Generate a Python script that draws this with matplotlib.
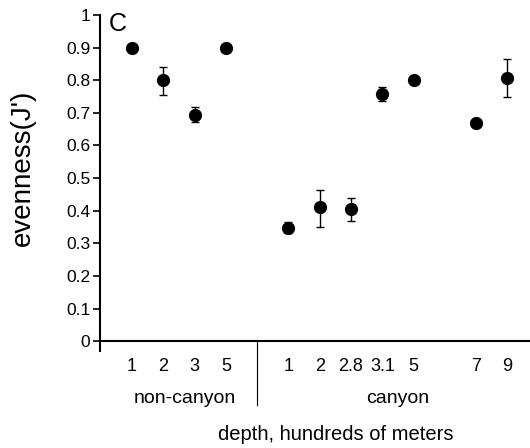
import matplotlib
matplotlib.use("Agg")
import matplotlib.pyplot as plt

plt.rcParams['font.family'] = ['Liberation Sans', 'DejaVu Sans']

# Data
tick_labels = ["1", "2", "3", "5", "1", "2", "2.8", "3.1", "5", "7", "9"]
positions = [1, 2, 3, 4, 6, 7, 8, 9, 10, 12, 13]
evenness = [0.90, 0.80, 0.695, 0.90, 0.347, 0.41, 0.405, 0.757, 0.80, 0.668, 0.806]
err_low = [0.0, 0.045, 0.022, 0.0, 0.015, 0.06, 0.035, 0.02, 0.01, 0.008, 0.058]
err_high = [0.0, 0.04, 0.022, 0.0, 0.017, 0.055, 0.035, 0.022, 0.01, 0.008, 0.06]
group_names = ["non-canyon", "canyon"]
yticks = [0, 0.1, 0.2, 0.3, 0.4, 0.5, 0.6, 0.7, 0.8, 0.9, 1]
ytick_labels = ["0", "0.1", "0.2", "0.3", "0.4", "0.5", "0.6", "0.7", "0.8", "0.9", "1"]

fig = plt.figure(figsize=(5.3, 4.48), dpi=100)
ax = fig.add_axes([0.1887, 0.2165, 0.8113, 0.75])

ax.errorbar(positions, evenness, yerr=[err_low, err_high], fmt='o', color='black',
            markersize=8.5, elinewidth=1.0, capsize=3, capthick=1.0)

ax.set_xlim(-0.02, 13.72)
ax.set_ylim(-0.03, 1.0)
ax.spines['top'].set_visible(False)
ax.spines['right'].set_visible(False)
ax.spines['bottom'].set_position(('data', 0))
ax.spines['left'].set_linewidth(1.5)
ax.spines['bottom'].set_linewidth(1.5)

ax.set_yticks(yticks)
ax.set_yticklabels(ytick_labels, fontsize=12.5)
ax.tick_params(axis='y', direction='out', length=5, width=1.2, pad=2)
ax.set_xticks(positions)
ax.set_xticklabels(tick_labels, fontsize=13)
ax.tick_params(axis='x', length=0, pad=12)

ax.set_ylabel("evenness(J')", fontsize=20)
ax.yaxis.set_label_coords(-0.15, 0.545)

ax.text(0.25, 0.972, "C", fontsize=18, ha='left', va='center')

# divider between groups
ax.plot([5, 5], [0, -0.196], color='black', lw=0.8, clip_on=False)

ax.text(2.7, -0.175, group_names[0], fontsize=14, ha='center', va='center')
ax.text(9.5, -0.175, group_names[1], fontsize=14, ha='center', va='center')
ax.text(7.5, -0.285, "depth, hundreds of meters", fontsize=14.5, ha='center', va='center')

fig.savefig("out.png", dpi=100)
